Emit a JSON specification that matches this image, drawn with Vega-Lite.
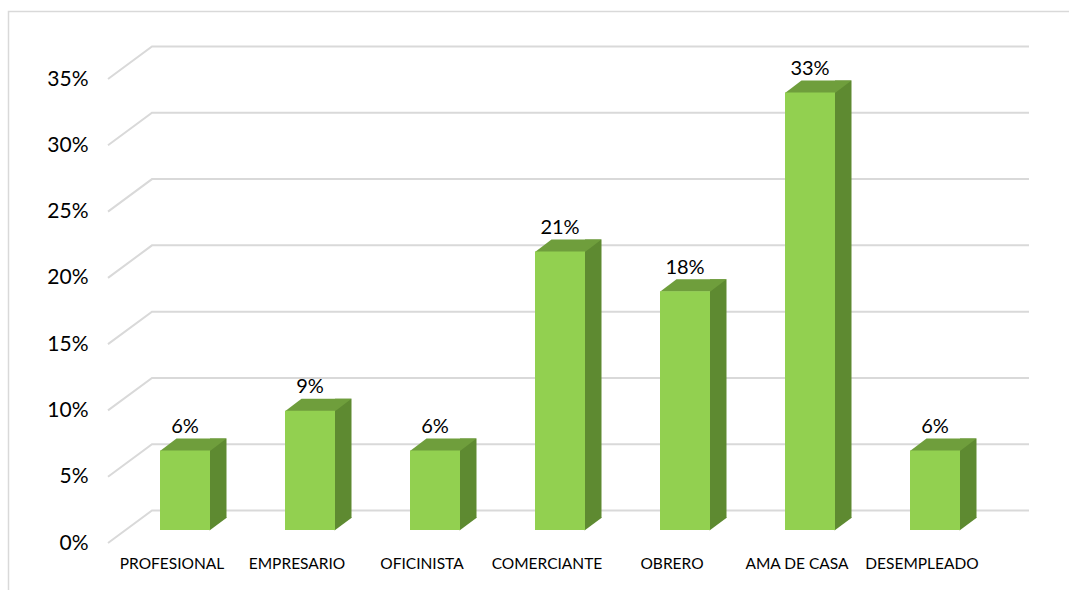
{
  "$schema": "https://vega.github.io/schema/vega-lite/v6.json",
  "width": 875,
  "height": 464,
  "autosize": {"type": "none"},
  "padding": {"left": 122.5, "top": 66, "right": 71.5, "bottom": 60},
  "background": "white",
  "config": {"view": {"stroke": null}, "font": "Lato"},
  "datasets": {
    "ocupacion": [
      {"ocupacion": "PROFESIONAL", "porcentaje": 0.06},
      {"ocupacion": "EMPRESARIO", "porcentaje": 0.09},
      {"ocupacion": "OFICINISTA", "porcentaje": 0.06},
      {"ocupacion": "COMERCIANTE", "porcentaje": 0.21},
      {"ocupacion": "OBRERO", "porcentaje": 0.18},
      {"ocupacion": "AMA DE CASA", "porcentaje": 0.33},
      {"ocupacion": "DESEMPLEADO", "porcentaje": 0.06}
    ],
    "grid": [
      {"valor": 0}, {"valor": 0.05}, {"valor": 0.1}, {"valor": 0.15},
      {"valor": 0.2}, {"valor": 0.25}, {"valor": 0.3}, {"valor": 0.35}
    ]
  },
  "resolve": {"scale": {"x": "shared", "y": "shared"}},
  "layer": [
    {
      "data": {"name": "grid"},
      "mark": {"type": "point", "shape": "M-14.5,13L29.5,-19.5L906.5,-19.5", "size": 4, "filled": false, "stroke": "#d9d9d9", "strokeWidth": 2, "opacity": 1},
      "encoding": {
        "x": {"datum": "PROFESIONAL", "type": "nominal", "bandPosition": 0},
        "y": {"field": "valor", "type": "quantitative"}
      }
    },
    {
      "data": {"values": [{"marco": 0.35}]},
      "mark": {"type": "point", "shape": "M-114,540L-114,-54.5L960,-54.5", "size": 4, "filled": false, "stroke": "#d9d9d9", "strokeWidth": 1.5, "opacity": 1},
      "encoding": {
        "x": {"datum": "PROFESIONAL", "type": "nominal", "bandPosition": 0},
        "y": {"field": "marco", "type": "quantitative"}
      }
    },
    {
      "data": {"name": "ocupacion"},
      "layer": [
        {
          "mark": {"type": "bar", "width": 16.5, "xOffset": 33.25, "yOffset": -12, "y2Offset": -12, "color": "#5E8A31"},
          "encoding": {
            "x": {"field": "ocupacion", "type": "nominal", "sort": null},
            "y": {"field": "porcentaje", "type": "quantitative"}
          }
        },
        {
          "mark": {"type": "point", "shape": "M24.5,-12.5L24.5,0.5L42,-12.5Z", "size": 4, "filled": true, "color": "#5E8A31", "strokeWidth": 0, "opacity": 1},
          "encoding": {
            "x": {"field": "ocupacion", "type": "nominal", "sort": null},
            "y": {"datum": 0, "type": "quantitative"}
          }
        },
        {
          "mark": {"type": "point", "shape": "M-25,0.5L25,0.5L41.5,-12L-8.5,-12Z", "size": 4, "filled": true, "color": "#6F9E3C", "strokeWidth": 0, "opacity": 1},
          "encoding": {
            "x": {"field": "ocupacion", "type": "nominal", "sort": null},
            "y": {"field": "porcentaje", "type": "quantitative"}
          }
        },
        {
          "mark": {"type": "bar", "width": 50, "color": "#92D050"},
          "encoding": {
            "x": {
              "field": "ocupacion", "type": "nominal", "sort": null,
              "scale": {"paddingInner": 0, "paddingOuter": 0},
              "axis": {"title": null, "domain": false, "ticks": false, "labelAngle": 0, "labelAlign": "center", "labelFont": "Lato", "labelFontSize": 15.5, "labelColor": "#000000", "labelPadding": 33.5, "labelOffset": -13}
            },
            "y": {
              "field": "porcentaje", "type": "quantitative",
              "scale": {"domain": [0, 0.35], "nice": false},
              "axis": {"title": null, "domain": false, "ticks": false, "grid": false, "format": ".0%", "values": [0, 0.05, 0.1, 0.15, 0.2, 0.25, 0.3, 0.35], "labelFont": "Lato", "labelFontSize": 21, "labelColor": "#000000", "labelPadding": 34.5, "labelOffset": 13}
            }
          }
        },
        {
          "mark": {"type": "text", "baseline": "alphabetic", "yOffset": -17.5, "fontSize": 20, "font": "Lato", "color": "#000000"},
          "encoding": {
            "x": {"field": "ocupacion", "type": "nominal", "sort": null},
            "y": {"field": "porcentaje", "type": "quantitative"},
            "text": {"field": "porcentaje", "type": "quantitative", "format": ".0%"}
          }
        }
      ]
    }
  ]
}
